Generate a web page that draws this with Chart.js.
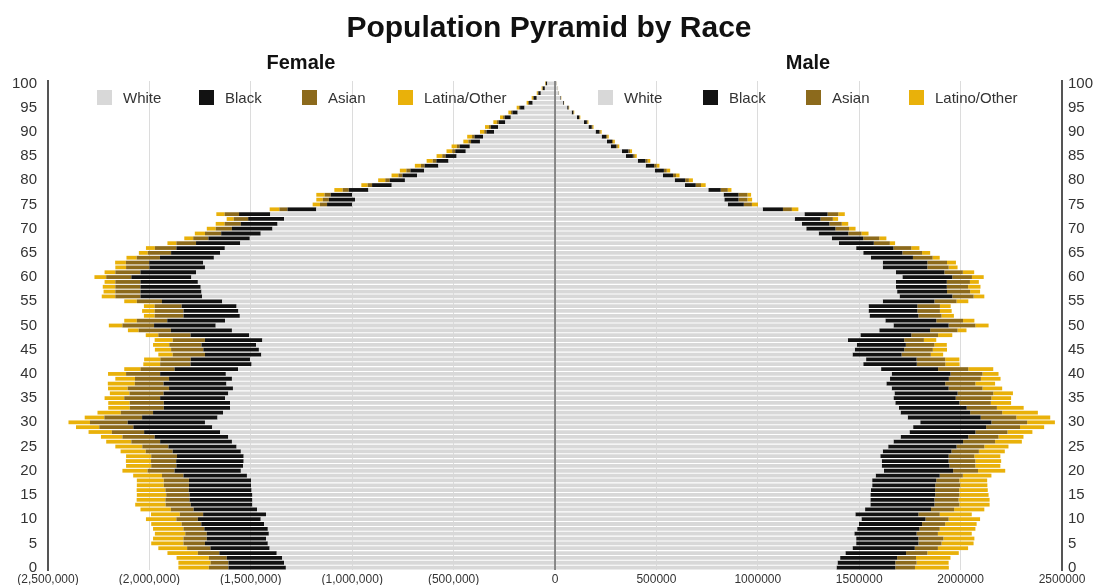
<!DOCTYPE html>
<html>
<head>
<meta charset="utf-8">
<title>Population Pyramid by Race</title>
<script src="https://cdn.jsdelivr.net/npm/chart.js@4.4.0/dist/chart.umd.min.js"></script>
<style>
  body { margin: 0; background: #fff; font-family: "Liberation Sans", Arial, sans-serif; }
  #wrap { position: relative; width: 1098px; height: 585px; overflow: hidden; }
  .layer { position: absolute; left: 0; top: 0; width: 1098px; height: 585px; }
  #title { position: absolute; left: 0; width: 1098px; top: 10px; text-align: center;
           font-weight: bold; font-size: 30px; color: #111; }
  .sub { position: absolute; top: 51px; font-weight: bold; font-size: 20px; color: #111;
         transform: translateX(-50%); }
  .item { position: absolute; top: 89px; font-size: 15px; color: #333; line-height: 17px;
          white-space: nowrap; z-index: 5; }
  .item i { display: inline-block; width: 15px; height: 15px; vertical-align: -2px; margin-right: 11px; }
</style>
</head>
<body>
<div id="wrap">
  <div class="layer"><canvas id="female"></canvas></div>
  <div class="layer"><canvas id="male"></canvas></div>
  <div id="title">Population Pyramid by Race</div>
  <div class="sub" style="left:301px">Female</div>
  <div class="sub" style="left:808px">Male</div>
  <div id="legends"></div>
</div>
<script>
// population by single year of age, in thousands
const femaleWhite = [1327,1336,1345,1372,1407,1416,1425,1411,1416,1434, 1451,1425,1469,1492,1492,1492,1496,1499,1499,1519,
  1549,1538,1535,1535,1549,1570,1593,1611,1651,1690, 1726,1664,1637,1602,1602,1627,1611,1588,1620,1593,
  1623,1563,1496,1504,1448,1460,1474,1443,1508,1593, 1673,1627,1554,1561,1570,1641,1740,1743,1747,1761,
  1793,1770,1726,1735,1682,1651,1628,1552,1505,1451, 1393,1368,1336,1404,1177,1000,986,1000,920,805,
  740,680,645,575,525,485,440,420,370,355, 300,280,245,218,184,150,110,90,70,50, 38];
const femaleBlack = [283,274,274,283,292,310,292,306,313,310, 310,310,313,304,310,310,310,306,306,313,
  327,329,333,329,336,336,354,363,375,389, 381,372,345,327,327,320,319,315,310,310,
  324,313,301,292,278,274,269,283,289,301, 304,285,278,271,271,297,304,301,297,283,
  296,274,274,266,266,242,239,218,204,195, 200,181,177,154,142,124,129,106,97,97,
  75,72,68,68,60,55,52,50,44,42, 38,36,33,30,26,22,18,15,12,10, 7];
const femaleAsian = [97,88,88,106,115,106,115,106,103,97, 106,115,112,124,119,115,115,124,124,106,
  133,124,124,127,133,129,142,159,159,168, 186,186,159,168,168,177,168,204,142,168,
  168,168,150,150,159,159,159,159,159,159, 156,150,142,142,133,124,124,124,124,124,
  124,124,115,115,115,115,106,97,75,80, 80,80,71,71,40,35,30,30,30,22,
  22,20,20,18,18,16,15,14,13,12, 11,10,9,8,7,6,5,4,3,2, 1];
const femaleLatina = [150,159,159,150,142,159,150,150,150,150, 150,142,150,150,142,145,142,133,133,142,
  124,124,124,124,124,133,124,106,115,115, 106,97,115,106,106,97,97,97,133,97,
  89,80,83,80,71,80,80,89,62,53, 67,62,53,62,53,62,67,58,62,53,
  58,53,53,53,50,44,44,44,44,50, 44,44,35,41,48,36,32,41,41,31,
  35,34,32,30,30,28,28,26,25,24, 21,19,17,15,13,11,7,6,5,4, 3];

const maleWhite = [1388,1393,1406,1432,1467,1485,1485,1476,1490,1499, 1511,1481,1529,1555,1555,1555,1558,1564,1564,1581,
  1622,1611,1611,1604,1616,1643,1669,1704,1748,1766, 1801,1739,1704,1696,1678,1669,1674,1660,1634,1652,
  1660,1608,1520,1534,1467,1478,1488,1444,1506,1599, 1669,1629,1551,1546,1546,1616,1699,1687,1681,1681,
  1713,1681,1616,1616,1558,1520,1485,1400,1365,1300, 1239,1218,1182,1230,1024,852,835,831,756,641,
  590,532,492,447,408,350,330,275,256,230, 200,165,143,108,82,60,39,26,17,13, 8];
const maleBlack = [290,285,281,299,307,307,307,307,307,311, 316,311,325,316,316,320,316,311,316,316,
  341,334,330,337,339,337,343,334,325,360, 351,360,343,334,316,307,311,281,290,290,
  290,281,264,249,242,244,242,278,251,251, 272,251,241,241,241,255,260,246,251,251,
  246,239,220,220,207,193,184,172,155,146, 144,135,127,114,100,79,70,74,61,53,
  52,50,45,42,38,34,32,27,25,22, 19,16,14,11,8,6,4,3,2,1, 1];
const maleAsian = [97,105,93,105,114,114,123,105,100,114, 114,105,114,123,119,119,119,123,114,114,
  123,128,132,127,135,137,158,149,158,167, 176,176,158,149,155,176,176,167,149,158,
  158,149,141,141,144,141,141,97,132,135, 132,132,114,111,111,109,105,114,105,114,
  97,91,105,97,97,97,88,79,79,65, 67,61,61,53,44,40,44,44,35,26,
  18,15,14,12,11,9,8,7,6,6, 5,4,4,3,2,2,1,1,0,0, 0];
const maleLatino = [167,158,170,155,149,158,153,167,176,155, 155,158,149,149,153,144,141,134,137,141,
  134,123,127,128,128,119,132,123,123,119, 137,167,176,132,100,97,97,97,97,97,
  79,123,70,70,61,70,61,61,70,44, 65,56,61,58,53,58,53,49,61,44,
  58,56,44,44,35,40,40,26,35,35, 32,32,26,32,32,30,23,18,18,23,
  20,17,17,14,13,10,10,8,8,7, 6,5,4,3,3,2,1,1,1,1, 1];

const ages = [];
for (let a = 0; a <= 100; a++) ages.push(a);

const femaleNames = ['White', 'Black', 'Asian', 'Latina/Other'];
const maleNames = ['White', 'Black', 'Asian', 'Latino/Other'];
const colors = ['#d8d8d8', '#121212', '#8c6a1c', '#e9b10a'];

// legend boxes sit inside the plot, like the original
const legendLeft = [97, 199, 302, 398];
const legendRight = [598, 703, 806, 909];
const legends = document.getElementById('legends');
function addLegend(names, lefts) {
  names.forEach((n, i) => {
    const d = document.createElement('div');
    d.className = 'item';
    d.style.left = lefts[i] + 'px';
    d.innerHTML = '<i style="background:' + colors[i] + '"></i>' + n;
    legends.appendChild(d);
  });
}
addLegend(femaleNames, legendLeft);
addLegend(maleNames, legendRight);

const zeroLine = {
  id: 'zeroLine',
  afterDatasetsDraw(chart) {
    const x = chart.scales.x.getPixelForValue(0);
    const { top, bottom } = chart.chartArea;
    const c = chart.ctx;
    c.save();
    c.strokeStyle = '#6a6a6a';
    c.lineWidth = 1.5;
    c.beginPath();
    c.moveTo(x, top);
    c.lineTo(x, bottom);
    c.stroke();
    c.restore();
  }
};

function pyramid(id, series, names, left) {
  return new Chart(document.getElementById(id), {
    type: 'bar',
    data: {
      labels: ages,
      datasets: series.map((s, i) => ({
        label: names[i],
        data: s.map(v => v * 1000),
        backgroundColor: colors[i],
        borderWidth: 0,
        barPercentage: 0.78,
        categoryPercentage: 1
      }))
    },
    options: {
      indexAxis: 'y',
      responsive: true,
      maintainAspectRatio: false,
      animation: false,
      layout: { padding: { top: 81, bottom: 0, left: left ? 0 : 555, right: left ? 543 : 0 } },
      plugins: { legend: { display: false }, tooltip: { enabled: false } },
      scales: {
        x: {
          stacked: true,
          min: 0,
          max: 2500000,
          reverse: left,
          border: { display: false },
          grid: { color: '#dcdcdc', drawTicks: false },
          ticks: {
            stepSize: 500000,
            padding: 2,
            maxRotation: 0,
            color: '#333',
            font: { size: 12, family: '"Liberation Sans", Arial, sans-serif' },
            callback: v => {
              if (v === 0) return left ? '' : '0';
              return left ? '(' + v.toLocaleString('en-US') + ')' : String(v);
            }
          },
          afterFit: s => { s.height = 15; }
        },
        y: {
          stacked: true,
          reverse: true,
          position: left ? 'left' : 'right',
          grid: { display: false, drawTicks: false },
          border: { display: true, color: '#555', width: 2 },
          ticks: {
            autoSkip: false,
            padding: left ? 11 : 6,
            color: '#333',
            font: { size: 15, family: '"Liberation Sans", Arial, sans-serif' },
            callback: (v, i) => (i % 5 === 0 ? String(ages[i]) : null)
          },
          afterFit: s => {
            s.width = left ? 48 : 36;
            s.paddingTop = 0;
            s.paddingBottom = 0;
          }
        }
      }
    },
    plugins: left ? [] : [zeroLine]
  });
}

pyramid('female', [femaleWhite, femaleBlack, femaleAsian, femaleLatina], femaleNames, true);
pyramid('male', [maleWhite, maleBlack, maleAsian, maleLatino], maleNames, false);
</script>
</body>
</html>
